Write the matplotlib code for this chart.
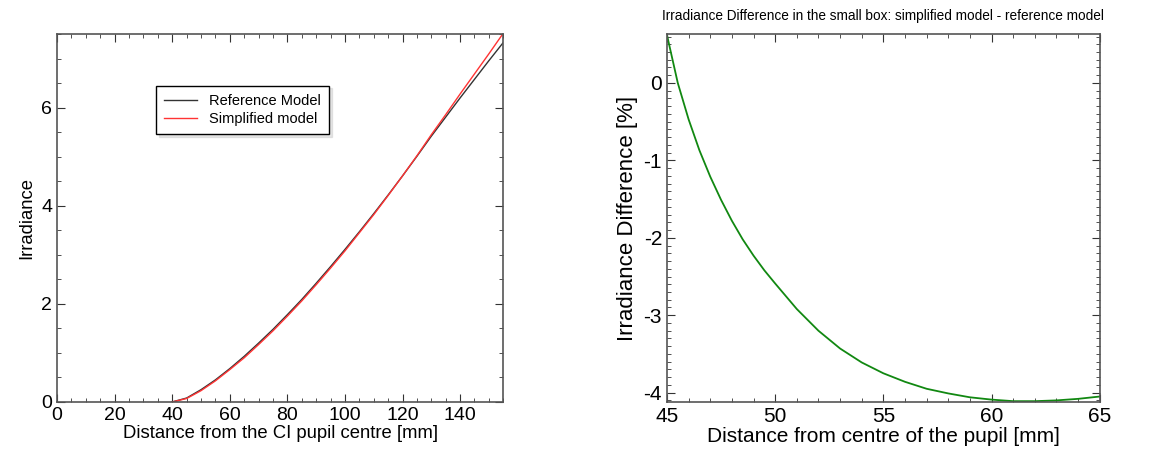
from matplotlib import pyplot as plt
from matplotlib.ticker import MultipleLocator

plt.rcParams['font.family'] = ['Liberation Sans', 'DejaVu Sans']
plt.rcParams['axes.unicode_minus'] = False

# left panel: irradiance vs distance
dist = [40, 45, 50, 55, 60, 65, 70, 75, 80, 85, 90, 95, 100, 105, 110, 115, 120,
        125, 130, 135, 140, 145, 150, 155]
irr_ref = [0.0, 0.08, 0.25, 0.45, 0.68, 0.93, 1.20, 1.48, 1.78, 2.09, 2.42, 2.76,
           3.11, 3.47, 3.84, 4.22, 4.61, 5.01, 5.42, 5.81, 6.20, 6.58, 6.96, 7.33]
irr_simp = [0.0, 0.07, 0.23, 0.43, 0.66, 0.90, 1.17, 1.45, 1.75, 2.06, 2.39, 2.73,
            3.08, 3.45, 3.82, 4.21, 4.61, 5.02, 5.45, 5.86, 6.28, 6.69, 7.10, 7.52]

# right panel: percentage difference in the small box
dist_box = [45, 45.5, 46, 46.5, 47, 47.5, 48, 48.5, 49, 49.5, 50, 51, 52, 53, 54,
            55, 56, 57, 58, 59, 60, 61, 62, 63, 64, 65]
diff_pct = [0.62, 0.0, -0.47, -0.87, -1.21, -1.51, -1.78, -2.02, -2.23, -2.42, -2.59,
            -2.92, -3.20, -3.43, -3.61, -3.75, -3.86, -3.95, -4.01, -4.06, -4.09,
            -4.11, -4.11, -4.10, -4.08, -4.05]

fig = plt.figure(figsize=(11.65, 4.62), dpi=100)
ax1 = fig.add_axes([0.049, 0.13, 0.383, 0.796])
ax2 = fig.add_axes([0.5725, 0.13, 0.3715, 0.796])

def style(ax, xmin, ymin):
    ax.tick_params(which='both', direction='in', top=True, right=True, colors='#333333')
    ax.tick_params(which='major', length=6)
    ax.tick_params(which='minor', length=3)
    ax.xaxis.set_minor_locator(MultipleLocator(xmin))
    ax.yaxis.set_minor_locator(MultipleLocator(ymin))
    for s in ax.spines.values():
        s.set_color('#555555')
        s.set_linewidth(1.2)

ax1.plot(dist, irr_ref, color='#333333', lw=1, label='Reference Model')
ax1.plot(dist, irr_simp, color='#ff3333', lw=1, label='Simplified model')
ax1.set_xlim(0, 155)
ax1.set_ylim(0, 7.5)
ax1.set_xticks(range(0, 141, 20))
ax1.set_yticks([0, 2, 4, 6])
style(ax1, 5, 0.5)
ax1.tick_params(which='major', labelsize=14, labelcolor='black')
ax1.set_xlabel('Distance from the CI pupil centre [mm]', fontsize=13.3, labelpad=1)
ax1.set_ylabel('Irradiance', fontsize=13.3)
leg = ax1.legend(loc='upper left', bbox_to_anchor=(0.205, 0.88), fontsize=10.5,
                 frameon=True, fancybox=False, shadow={'color': '#cccccc', 'ox': 2, 'oy': -2},
                 handlelength=2.3, borderpad=0.55, labelspacing=0.3)
leg.get_frame().set_edgecolor('black')

ax2.plot(dist_box, diff_pct, color='#118811', lw=1.3)
ax2.set_xlim(45, 65)
ax2.set_ylim(-4.12, 0.63)
ax2.set_xticks([45, 50, 55, 60, 65])
ax2.set_yticks([0, -1, -2, -3, -4])
style(ax2, 1, 0.1)
ax2.tick_params(which='major', labelsize=15, labelcolor='black')
ax2.set_xlabel('Distance from centre of the pupil [mm]', fontsize=15, labelpad=1)
ax2.set_ylabel('Irradiance Difference [%]', fontsize=16)
ax2.set_title('Irradiance Difference in the small box: simplified model - reference model',
              fontsize=9.8, pad=10)

plt.savefig('out.png', dpi=100)
